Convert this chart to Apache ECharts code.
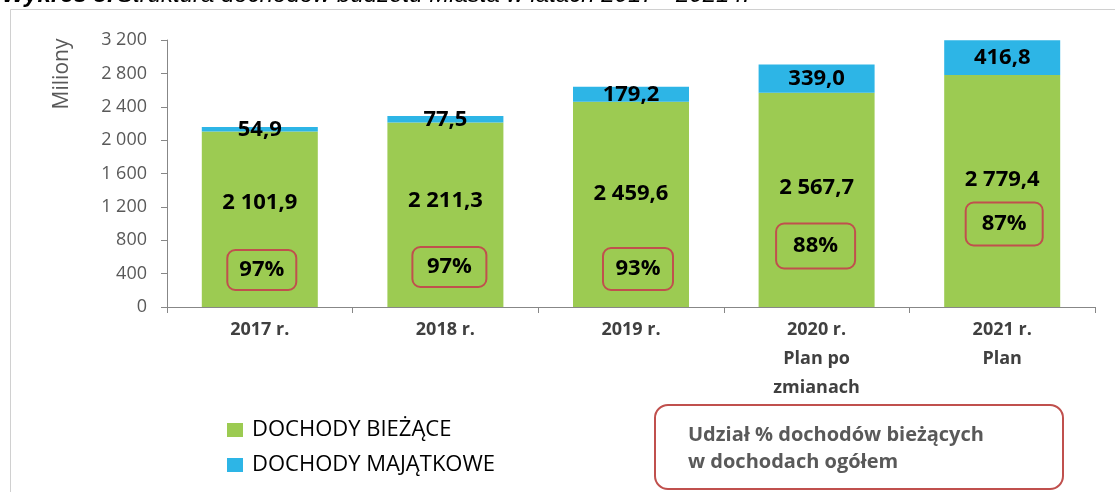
<!DOCTYPE html>
<html>
<head>
<meta charset="utf-8">
<script src="https://cdn.jsdelivr.net/npm/echarts@6/dist/echarts.min.js"></script>
<style>
  html, body { margin: 0; padding: 0; background: #fff; }
  #chart { width: 1115px; height: 492px; }
</style>
</head>
<body>
<div id="chart"></div>
<script>
// data (mln zł)
const years = ['2017 r.', '2018 r.', '2019 r.', '2020 r.\nPlan po\nzmianach', '2021 r.\nPlan'];
const dochodyBiezace = [2101.9, 2211.3, 2459.6, 2567.7, 2779.4];
const dochodyMajatkowe = [54.9, 77.5, 179.2, 339.0, 416.8];
const udzialBiezacych = [97, 97, 93, 88, 87];
const yTicks = [0, 400, 800, 1200, 1600, 2000, 2400, 2800, 3200];

// hand placed labels in the original (px above bar centre / axis)
const labelLift = [17, 14, 11, 12, 11];
const boxLift = [37, 40, 38, 61, 83];
const boxShift = [2, 4, 7, -1, 2];
const boxSize = [[69, 40], [74, 40], [70, 42], [79, 45], [77, 43]];

const FONT = '"Open Sans", Lato, sans-serif';
const GREEN = '#9CCB52';
const BLUE = '#2DB5E6';
const RED = '#C0504D';

function formatPl(v, dec) {
    let s = v.toFixed(dec);
    let parts = s.split('.');
    let int = parts[0].replace(/\B(?=(\d{3})+(?!\d))/g, ' ');
    return parts.length > 1 ? int + ',' + parts[1] : int;
}

let chartDom = document.getElementById('chart');
let myChart = echarts.init(chartDom);

let option = {
    animation: false,
    textStyle: { fontFamily: FONT },
    grid: {
        left: 167,
        right: 20,
        top: 40,
        bottom: 185
    },
    legend: {
        orient: 'vertical',
        left: 222,
        top: 414,
        itemWidth: 16,
        itemHeight: 14,
        itemGap: 13,
        icon: 'rect',
        data: ['DOCHODY BIEŻĄCE', 'DOCHODY MAJĄTKOWE'],
        textStyle: {
            fontFamily: FONT,
            fontSize: 22,
            color: '#000',
            padding: [0, 0, 0, 4]
        }
    },
    xAxis: {
        type: 'category',
        data: years,
        axisLine: { lineStyle: { color: '#878787', width: 1 } },
        axisTick: { show: true, length: 6, lineStyle: { color: '#878787' } },
        axisLabel: {
            margin: 8,
            fontFamily: FONT,
            fontSize: 18,
            fontWeight: 'bold',
            color: '#404040',
            lineHeight: 29
        }
    },
    yAxis: {
        type: 'value',
        min: yTicks[0],
        max: yTicks[yTicks.length - 1],
        interval: yTicks[1] - yTicks[0],
        splitLine: { show: false },
        axisLine: { show: true, lineStyle: { color: '#878787', width: 1 } },
        axisTick: { show: true, length: 6, lineStyle: { color: '#878787' } },
        axisLabel: {
            margin: 20,
            fontFamily: FONT,
            fontSize: 18,
            color: '#595959',
            formatter: function (value) {
                return formatPl(value, 0);
            }
        }
    },
    series: [
        {
            name: 'DOCHODY BIEŻĄCE',
            type: 'bar',
            stack: 'dochody',
            barWidth: 116,
            itemStyle: { color: GREEN },
            label: {
                show: true,
                position: 'inside',
                fontFamily: FONT,
                fontSize: 22,
                fontWeight: 'bold',
                color: '#000',
                formatter: function (params) {
                    return formatPl(params.value, 1);
                }
            },
            data: dochodyBiezace.map(function (v, i) {
                return { value: v, label: { offset: [0, -labelLift[i]] } };
            })
        },
        {
            name: 'DOCHODY MAJĄTKOWE',
            type: 'bar',
            stack: 'dochody',
            barWidth: 116,
            itemStyle: { color: BLUE },
            label: {
                show: true,
                position: 'inside',
                fontFamily: FONT,
                fontSize: 22,
                fontWeight: 'bold',
                color: '#000',
                formatter: function (params) {
                    return formatPl(params.value, 1);
                }
            },
            data: dochodyMajatkowe
        },
        {
            name: 'Udział',
            type: 'custom',
            z: 10,
            silent: true,
            data: udzialBiezacych.map(function (v, i) {
                return [i, v];
            }),
            encode: { x: 0 },
            renderItem: function (params, api) {
                let i = params.dataIndex;
                let p = api.coord([api.value(0), 0]);
                let w = boxSize[i][0], h = boxSize[i][1];
                let cx = p[0] + boxShift[i], cy = p[1] - boxLift[i];
                return {
                    type: 'group',
                    children: [
                        {
                            type: 'rect',
                            shape: { x: cx - w / 2, y: cy - h / 2, width: w, height: h, r: 8 },
                            style: { fill: 'transparent', stroke: RED, lineWidth: 2 }
                        },
                        {
                            type: 'text',
                            x: cx,
                            y: cy,
                            style: {
                                text: api.value(1) + '%',
                                align: 'center',
                                verticalAlign: 'middle',
                                font: 'bold 22px ' + FONT,
                                fill: '#000'
                            }
                        }
                    ]
                };
            }
        }
    ],
    graphic: [
        {
            type: 'polyline',
            shape: { points: [[10.5, 492], [10.5, 9.5], [1115, 9.5]] },
            style: { fill: null, stroke: '#D0D0D0', lineWidth: 1 }
        },
        {
            type: 'text',
            x: 2,
            y: 7,
            style: {
                text: '{b|Wykres 3.} {i|Struktura dochodów budżetu Miasta w latach 2017 - 2021 r.}',
                verticalAlign: 'bottom',
                rich: {
                    b: { font: 'italic bold 24px "Liberation Sans", Arial, sans-serif', fill: '#000' },
                    i: { font: 'italic 24px "Liberation Sans", Arial, sans-serif', fill: '#000' }
                }
            }
        },
        {
            type: 'text',
            x: 62,
            y: 74,
            rotation: Math.PI / 2,
            style: {
                text: 'Miliony',
                align: 'center',
                verticalAlign: 'middle',
                font: '21px ' + FONT,
                fill: '#595959'
            }
        },
        {
            type: 'rect',
            shape: { x: 655, y: 405, width: 408, height: 84, r: 13 },
            style: { fill: 'transparent', stroke: RED, lineWidth: 2 }
        },
        {
            type: 'text',
            x: 688,
            y: 449,
            style: {
                text: 'Udział % dochodów bieżących\nw dochodach ogółem',
                verticalAlign: 'middle',
                lineHeight: 27,
                font: 'bold 20px ' + FONT,
                fill: '#595959'
            }
        }
    ]
};
option && myChart.setOption(option);
window.addEventListener('resize', function () {
    myChart.resize();
});
</script>
</body>
</html>
